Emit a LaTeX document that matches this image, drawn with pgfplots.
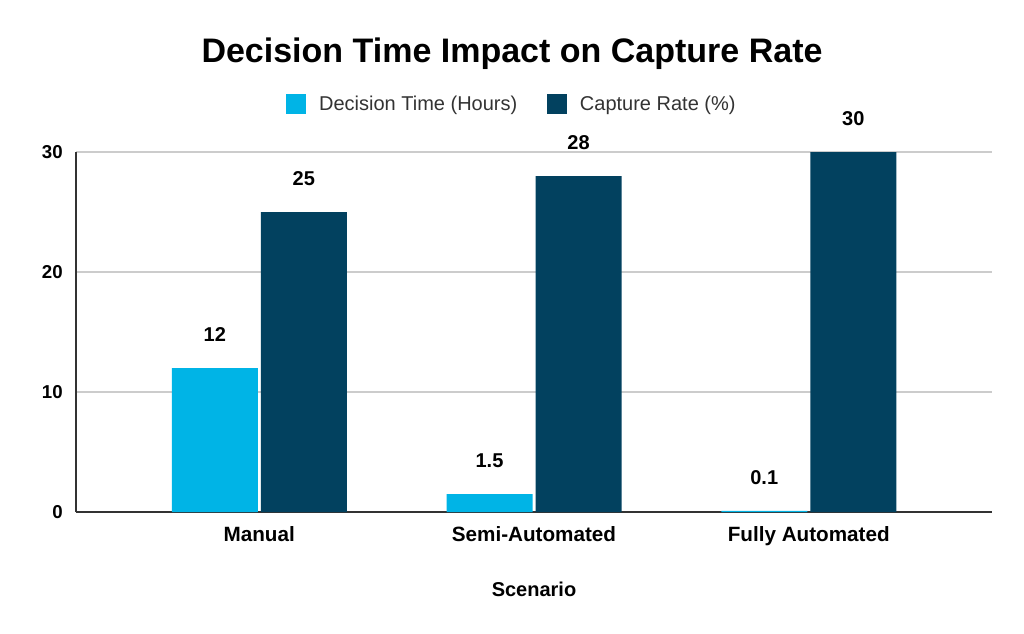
\documentclass[border=0pt]{standalone}
\usepackage{pgfplots}
\pgfplotsset{compat=1.18}
\usepackage{fontspec}
\setmainfont{Liberation Sans}
\definecolor{lightbar}{HTML}{00B4E6}
\definecolor{darkbar}{HTML}{02415F}
\definecolor{gridgray}{HTML}{CCCCCC}
\definecolor{axisgray}{HTML}{333333}
\begin{document}
\begin{tikzpicture}
\useasboundingbox (0,0) rectangle (768pt,474.75pt);
\begin{axis}[
    at={(57pt,90.75pt)}, anchor=south west,
    scale only axis,
    width=687pt, height=270pt,
    ybar=2.25pt,
    bar width=64.5pt,
    xmin=-0.667, xmax=2.667,
    ymin=0, ymax=30,
    xtick=data,
    xticklabels={Manual,Semi-Automated,Fully Automated},
    ytick={0,10,20,30},
    axis x line=bottom, axis y line=left,
    axis line style={-, axisgray, line width=0.9pt},
    major tick length=0pt,
    ymajorgrids=true,
    grid style={gridgray, line width=0.8pt},
    xticklabel style={anchor=base, inner sep=0pt, yshift=-21.75pt, font=\fontsize{15.5pt}{18pt}\bfseries},
    yticklabel style={anchor=east, inner sep=0pt, xshift=-9.75pt, font=\fontsize{14pt}{16pt}\bfseries},
    /pgf/number format/assume math mode=true,
    xlabel={Scenario},
    xlabel style={at={(axis description cs:0.5,0)}, anchor=center, yshift=-57.75pt, font=\fontsize{15pt}{18pt}\bfseries},
    title={Decision Time Impact on Capture Rate},
    title style={at={(axis description cs:0.476,1.25)}, anchor=center, font=\fontsize{25.5pt}{30pt}\bfseries},
    clip=false,
    legend columns=2,
    legend style={at={(axis description cs:0.476,1.133)}, anchor=center, draw=none,
        font=\fontsize{15pt}{18pt}\selectfont, text=axisgray,
        /tikz/every odd column/.append style={column sep=8pt},
        /tikz/every even column/.append style={column sep=20pt}},
    legend image code/.code={\fill[#1] (0pt,-7.5pt) rectangle (15pt,7.5pt);},
    nodes near coords,
    nodes near coords style={anchor=center, yshift=24.75pt, text=black, font=\fontsize{15pt}{18pt}\bfseries},
]
\addplot[fill=lightbar, draw=none] coordinates {(0,12) (1,1.5) (2,0.1)};
\addlegendentry{Decision Time (Hours)}
\addplot[fill=darkbar, draw=none] coordinates {(0,25) (1,28) (2,30)};
\addlegendentry{Capture Rate (\%)}
\end{axis}
\end{tikzpicture}
\end{document}
